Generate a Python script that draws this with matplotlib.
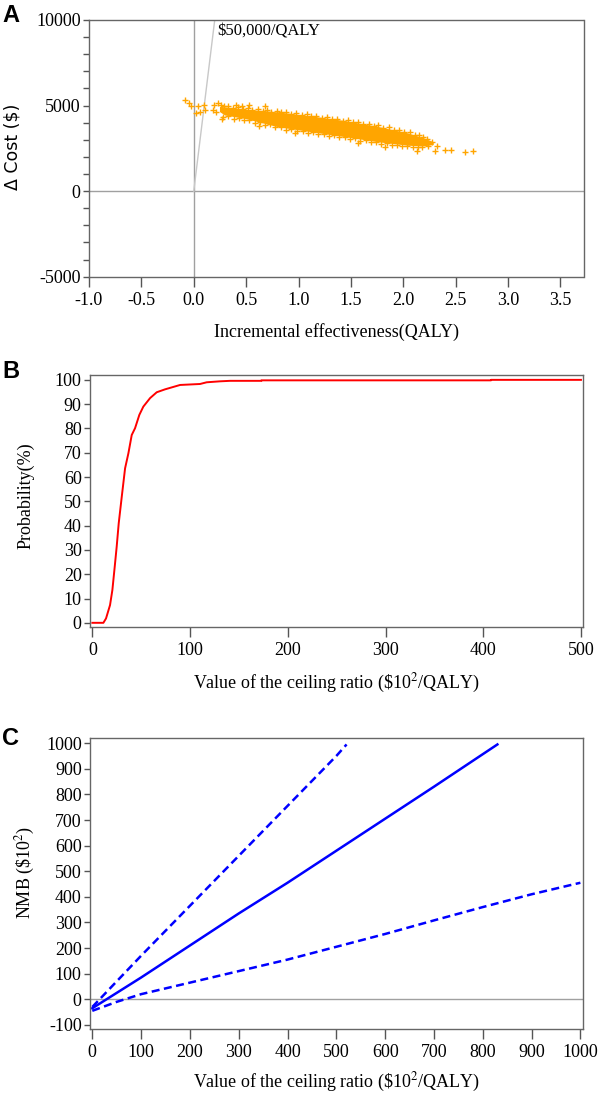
import matplotlib
matplotlib.use("Agg")
import matplotlib.pyplot as plt
from matplotlib.ticker import MultipleLocator

plt.rcParams['font.family'] = ['Liberation Serif', 'DejaVu Serif']
plt.rcParams['mathtext.fontset'] = 'stix'
plt.rcParams['axes.unicode_minus'] = False

# ---- Panel A: cost-effectiveness plane ----
# dense core of the simulation cloud (outline)
core_x = [0.25, 0.34, 0.50, 0.81, 1.13, 1.45, 1.77, 2.05, 2.20, 2.29,
          2.29, 2.20, 2.05, 1.77, 1.45, 1.13, 0.81, 0.50, 0.30, 0.25]
core_y = [4930, 4870, 4760, 4600, 4360, 4090, 3740, 3370, 3080, 2860,
          2700, 2610, 2650, 2850, 3150, 3440, 3730, 4210, 4420, 4620]

# isolated simulation points
out_x = [-0.08, -0.05, -0.03, 0.02, 0.045, 0.06, 0.10, 0.11, 0.18, 0.19,
         0.21, 0.235, 0.26, 0.27, 0.40, 0.46, 0.53, 0.68, 0.62, 0.97,
         1.57, 1.83, 2.13, 2.30, 2.32, 2.40, 2.46, 2.59, 2.67]
out_y = [5300, 5140, 4990, 4560, 4950, 4600, 5040, 4750, 4750, 5040,
         4600, 5140, 5040, 4200, 5040, 4990, 5040, 4950, 3780, 3390,
         2800, 2560, 2360, 2320, 2610, 2410, 2375, 2260, 2360]

# points along the upper edge of the cloud
up_x = [0.29, 0.33, 0.37, 0.42, 0.47, 0.52, 0.56, 0.61, 0.66, 0.70, 0.74,
        0.79, 0.83, 0.88, 0.93, 0.98, 1.03, 1.08, 1.12, 1.17, 1.22, 1.27,
        1.32, 1.37, 1.42, 1.47, 1.52, 1.57, 1.62, 1.67, 1.72, 1.76, 1.81,
        1.86, 1.91, 1.96, 2.01, 2.06, 2.11, 2.15, 2.19, 2.23, 2.27]
up_y = [4950, 5000, 4880, 4900, 4780, 4850, 4760, 4790, 4680, 4730, 4640,
        4690, 4600, 4620, 4520, 4560, 4450, 4480, 4370, 4390, 4300, 4320,
        4210, 4240, 4110, 4150, 4030, 4050, 3930, 3940, 3820, 3840, 3700,
        3720, 3560, 3600, 3440, 3450, 3300, 3280, 3150, 3050, 2900]

# points along the lower edge of the cloud
lo_x = [0.28, 0.33, 0.38, 0.43, 0.48, 0.53, 0.58, 0.63, 0.68, 0.73, 0.78,
        0.83, 0.88, 0.93, 0.99, 1.04, 1.09, 1.14, 1.19, 1.24, 1.29, 1.34,
        1.39, 1.44, 1.49, 1.54, 1.59, 1.64, 1.69, 1.74, 1.79, 1.84, 1.89,
        1.94, 1.99, 2.04, 2.09, 2.14, 2.18, 2.24]
lo_y = [4330, 4380, 4240, 4290, 4140, 4180, 4010, 4040, 3870, 3900, 3720,
        3760, 3600, 3640, 3500, 3530, 3410, 3430, 3330, 3360, 3220, 3260,
        3140, 3170, 3060, 3090, 2940, 2980, 2850, 2890, 2770, 2800, 2690,
        2720, 2640, 2660, 2590, 2560, 2600, 2620]

wtp_threshold = 50000  # $ per QALY

# ---- Panel B: acceptability curve ----
ceac_x = [0, 11.3, 14.0, 18.1, 20.5, 22.9, 24.9, 27.0, 30.1, 33.5, 36.9,
          40.3, 43.7, 48.1, 52.2, 59.1, 65.9, 74.4, 89.8, 110.2, 117,
          130.7, 141, 173, 173, 408, 408, 500]
ceac_y = [0, 0, 1.8, 7.3, 13.5, 23.1, 31.3, 41.0, 51.9, 63.6, 69.8,
          77.3, 80.1, 85.6, 89.0, 92.5, 94.9, 96.1, 97.9, 98.3, 99.0,
          99.4, 99.6, 99.6, 99.8, 99.8, 100, 100]

# ---- Panel C: net monetary benefit ----
nmb_x = [0, 100, 200, 300, 400, 500, 600, 700, 830]
nmb_y = [-35, 85, 210, 335, 455, 580, 705, 830, 995]
nmb_hi_x = [0, 100, 200, 300, 400, 500, 521]
nmb_hi_y = [-30, 170, 365, 560, 755, 950, 995]
nmb_lo_x = [0, 50, 100, 200, 300, 400, 500, 600, 700, 800, 900, 1000]
nmb_lo_y = [-45, -10, 20, 65, 110, 155, 205, 255, 308, 360, 410, 455]

W, H = 600, 1095
fig = plt.figure(figsize=(6, 10.95), dpi=100)

def px_axes(left, top, right, bottom):
    return fig.add_axes([left / W, 1 - bottom / H, (right - left) / W, (bottom - top) / H])

def style(ax):
    for s in ax.spines.values():
        s.set_color('#666666')
        s.set_linewidth(1.0)
    ax.tick_params(axis='both', colors='#555555', labelcolor='black', labelsize=13, width=1.0)
    ax.tick_params(axis='x', length=7, pad=4)
    ax.tick_params(axis='y', length=4.5, pad=1.5)
    ax.tick_params(axis='y', which='minor', length=4.5, width=1.0, colors='#555555')

gray_zero = '#a0a0a0'
orange = '#ffa500'

# Panel A
ax1 = px_axes(89, 20, 583.5, 276.7)
style(ax1)
ax1.axvline(0, color=gray_zero, lw=1.0, zorder=1)
ax1.axhline(0, color=gray_zero, lw=1.0, zorder=1)
ax1.plot([0, 10000 / wtp_threshold], [0, 10000], color='#c8c8c8', lw=1.0, zorder=1)
ax1.fill(core_x, core_y, color=orange, lw=0, zorder=2)
for xs, ys in [(out_x, out_y), (up_x, up_y), (lo_x, lo_y)]:
    ax1.plot(xs, ys, '+', color=orange, ms=5, mew=1.0, zorder=3)
ax1.text(0.22, 9300, '$50,000/QALY', fontsize=12, va='center', ha='left',
         bbox=dict(facecolor='white', edgecolor='none', pad=1))
ax1.set_xlim(-1.0, 3.72)
ax1.set_ylim(-5000, 10000)
ax1.xaxis.set_major_locator(MultipleLocator(0.5))
ax1.xaxis.set_major_formatter(plt.FuncFormatter(lambda v, p: '%.1f' % v))
ax1.yaxis.set_major_locator(MultipleLocator(5000))
ax1.yaxis.set_minor_locator(MultipleLocator(1000))
ax1.set_xlabel('Incremental effectiveness(QALY)', fontsize=13)
ax1.xaxis.set_label_coords(0.5, -0.18)
ax1.set_ylabel('Δ Cost (\\$)', fontsize=12.5, family=['DejaVu Sans'])
ax1.yaxis.set_label_coords(-0.1355, 0.505)

# Panel B
ax2 = px_axes(90, 375, 583.3, 626.7)
style(ax2)
ax2.plot(ceac_x, ceac_y, color='#ff0000', lw=1.4)
ax2.set_xlim(-2.4, 502.4)
ax2.set_ylim(-1.6, 102)
ax2.xaxis.set_major_locator(MultipleLocator(100))
ax2.yaxis.set_major_locator(MultipleLocator(10))
ax2.set_xlabel('Value of the ceiling ratio (\\$10$^2$/QALY)', fontsize=13)
ax2.xaxis.set_label_coords(0.5, -0.18)
ax2.set_ylabel('Probability(%)', fontsize=13)
ax2.yaxis.set_label_coords(-0.1115, 0.52)

# Panel C
ax3 = px_axes(90, 738.3, 583.3, 1029)
style(ax3)
ax3.axhline(0, color=gray_zero, lw=1.0, zorder=1)
ax3.plot(nmb_x, nmb_y, color='#0000ff', lw=1.8)
ax3.plot(nmb_hi_x, nmb_hi_y, color='#0000ff', lw=1.8, dashes=(3.2, 1.8))
ax3.plot(nmb_lo_x, nmb_lo_y, color='#0000ff', lw=1.8, dashes=(3.2, 1.8))
ax3.set_xlim(-4.7, 1006)
ax3.set_ylim(-116, 1019)
ax3.xaxis.set_major_locator(MultipleLocator(100))
ax3.yaxis.set_major_locator(MultipleLocator(100))
ax3.set_xlabel('Value of the ceiling ratio (\\$10$^2$/QALY)', fontsize=13)
ax3.xaxis.set_label_coords(0.5, -0.145)
ax3.set_ylabel('NMB (\\$10$^2$)', fontsize=13)
ax3.yaxis.set_label_coords(-0.1075, 0.54)

# panel letters
for label, ytop in [('A', 4), ('B', 360), ('C', 727)]:
    fig.text(2 / W, 1 - ytop / H, label, fontsize=17, fontweight='bold',
             family=['Liberation Sans'], va='top', ha='left')

fig.savefig('out.png', dpi=100)
